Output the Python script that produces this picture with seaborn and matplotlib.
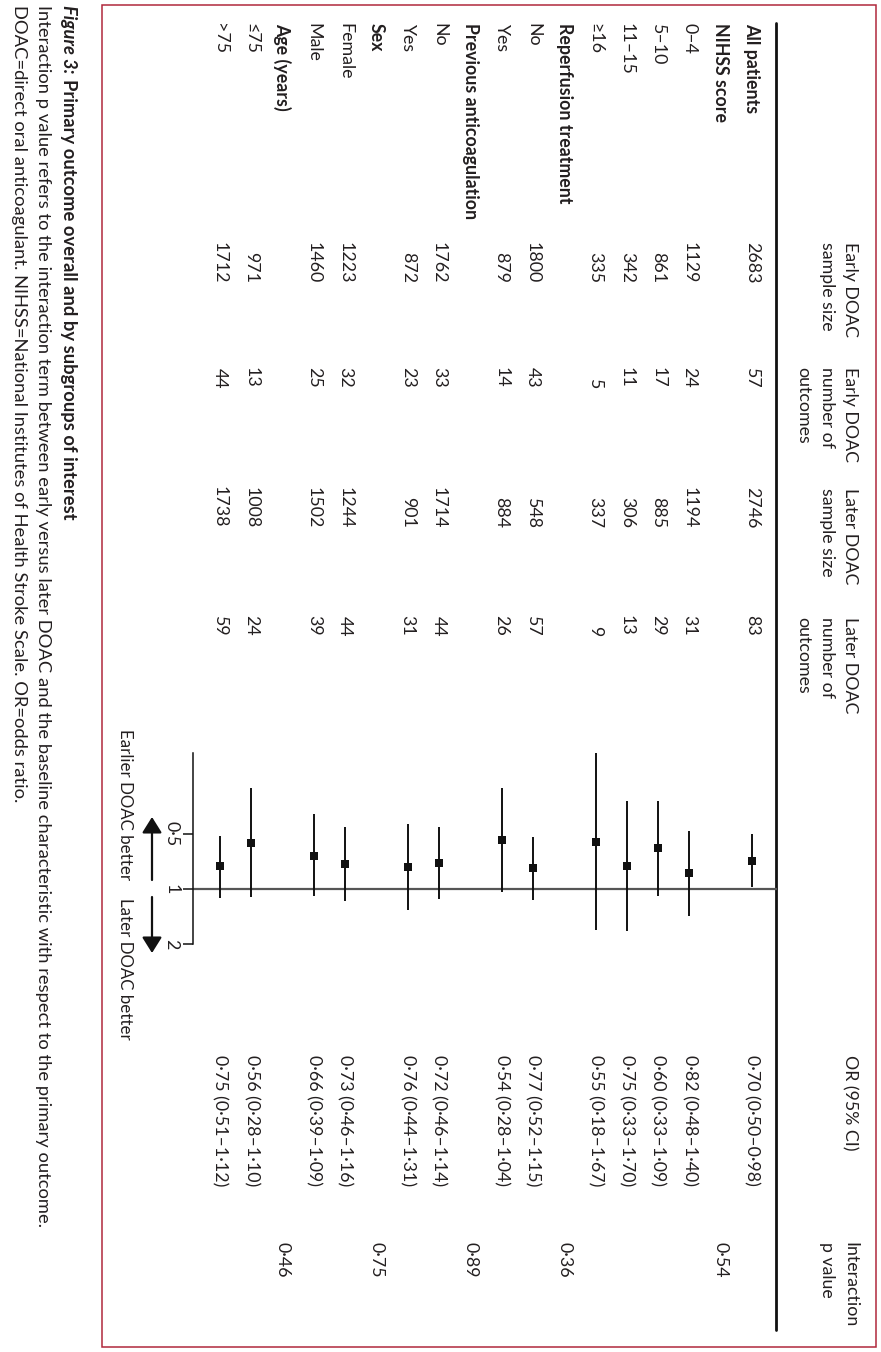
import numpy as np
import pandas as pd
import seaborn as sns
import matplotlib.pyplot as plt
from matplotlib.patches import Rectangle

sns.set_style('white')
plt.rcParams['font.family'] = ['Lato', 'DejaVu Sans']

# Table data (one entry per row, top to bottom of the original landscape table)
labels = ['All patients', 'NIHSS score', '0–4', '5–10', '11–15', '≥16',
          'Reperfusion treatment', 'No', 'Yes', 'Previous anticoagulation', 'No', 'Yes',
          'Sex', 'Female', 'Male', 'Age (years)', '≤75', '>75']
is_header = [True, True, False, False, False, False, True, False, False, True,
             False, False, True, False, False, True, False, False]
early_n = ['2683', '', '1129', '861', '342', '335', '', '1800', '879', '', '1762', '872',
           '', '1223', '1460', '', '971', '1712']
early_events = ['57', '', '24', '17', '11', '5', '', '43', '14', '', '33', '23',
                '', '32', '25', '', '13', '44']
later_n = ['2746', '', '1194', '885', '306', '337', '', '548', '884', '', '1714', '901',
           '', '1244', '1502', '', '1008', '1738']
later_events = ['83', '', '31', '29', '13', '9', '', '57', '26', '', '44', '31',
                '', '44', '39', '', '24', '59']
odds_ratio = [0.70, np.nan, 0.82, 0.60, 0.75, 0.55, np.nan, 0.77, 0.54, np.nan, 0.72, 0.76,
              np.nan, 0.73, 0.66, np.nan, 0.56, 0.75]
ci_low = [0.50, np.nan, 0.48, 0.33, 0.33, 0.18, np.nan, 0.52, 0.28, np.nan, 0.46, 0.44,
          np.nan, 0.46, 0.39, np.nan, 0.28, 0.51]
ci_high = [0.98, np.nan, 1.40, 1.09, 1.70, 1.67, np.nan, 1.15, 1.04, np.nan, 1.14, 1.31,
           np.nan, 1.16, 1.09, np.nan, 1.10, 1.12]
p_interaction = ['', '0·54', '', '', '', '', '0·36', '', '', '0·89', '', '', '0·75',
                 '', '', '0·46', '', '']
or_ticks = [0.5, 1, 2]

df = pd.DataFrame({'row': np.arange(len(labels)), 'or': odds_ratio,
                   'lo': ci_low, 'hi': ci_high}).dropna()

INK = '#231f20'
FS = 12.8
CAP = 13.2
W, H = 881, 1352
fig = plt.figure(figsize=(W / 100, H / 100), dpi=100)

# background axes in pixel coordinates (origin top-left)
bg = fig.add_axes([0, 0, 1, 1])
bg.set_xlim(0, W)
bg.set_ylim(H, 0)
bg.axis('off')


def dot(v):
    return f'{v:.2f}'.replace('.', '·')


def rtext(x, y, s, va='top', size=FS, weight='normal', style='normal', color=INK):
    return bg.text(x, y, s, rotation=-90, ha='center', va=va, fontsize=size,
                   fontweight=weight, fontstyle=style, color=color)


row0, step = 752, 31.3
for i, lab in enumerate(labels):
    x = row0 - step * i
    rtext(x, 23, lab, weight='bold' if is_header[i] else 'normal')
    if early_n[i]:
        rtext(x, 283, early_n[i], va='bottom')
        rtext(x, 388, early_events[i], va='bottom')
        rtext(x, 528, later_n[i], va='bottom')
        rtext(x, 636, later_events[i], va='bottom')
        rtext(x, 1055, f'{dot(odds_ratio[i])} ({dot(ci_low[i])}–{dot(ci_high[i])})')
    if p_interaction[i]:
        rtext(x, 1242, p_interaction[i])

# column headers
hdr_x = [850, 827, 803]
headers = [(242, ['Early DOAC', 'sample size']),
           (367, ['Early DOAC', 'number of', 'outcomes']),
           (488, ['Later DOAC', 'sample size']),
           (617, ['Later DOAC', 'number of', 'outcomes']),
           (1055, ['OR (95% CI)']),
           (1242, ['Interaction', 'p value'])]
for y, lines in headers:
    for hx, line in zip(hdr_x, lines):
        rtext(hx, y, line)

# rule under the header and the frame
bg.plot([776, 776], [23, 1330], color='#111111', lw=2)
bg.add_patch(Rectangle((102, 5), 774, 1342, fill=False, ec='#b0283c', lw=1.1))

# caption
fig_lab = rtext(68, 5, 'Figure 3:', size=CAP, weight='bold', style='italic')
fig.canvas.draw()
ext = fig_lab.get_window_extent()
gap_px = ext.height + 6
rtext(68, 5 + gap_px, 'Primary outcome overall and by subgroups of interest',
      size=CAP, weight='bold')
rtext(43, 5, 'Interaction p value refers to the interaction term between early versus later '
             'DOAC and the baseline characteristic with respect to the primary outcome.', size=CAP)
rtext(19, 5, 'DOAC=direct oral anticoagulant. NIHSS=National Institutes of Health Stroke '
             'Scale. OR=odds ratio.', size=CAP)

# direction arrows
arrow = dict(arrowstyle='-|>,head_length=0.8,head_width=0.5', lw=1.6, color='#111111',
             shrinkA=0, shrinkB=0, mutation_scale=12)
bg.annotate('', xy=(152, 817), xytext=(152, 880), arrowprops=arrow)
bg.annotate('', xy=(152, 953), xytext=(152, 897), arrowprops=arrow)
rtext(125, 880, 'Earlier DOAC better', va='bottom', size=12.2)
rtext(125, 898, 'Later DOAC better', size=12.2)

# forest plot axes: rows run right-to-left, OR runs top-to-bottom on a log2 scale
px_one, px_double = 889, 55
top_px, bot_px = 745, 950
fx = fig.add_axes([193 / W, (H - bot_px) / H, (777 - 193) / W, (bot_px - top_px) / H])
fx.set_facecolor('none')
fx.set_yscale('log', base=2)
fx.set_ylim(2 ** ((bot_px - px_one) / px_double), 2 ** ((top_px - px_one) / px_double))
fx.set_xlim((row0 - 193) / step, (row0 - 777) / step)

fx.axhline(1, color='#555555', lw=1.6, zorder=1)
fx.vlines(df['row'], df['lo'], df['hi'], color='#111111', lw=1.4, zorder=2)
sns.scatterplot(data=df, x='row', y='or', marker='s', s=28, color='#111111',
                linewidth=0, zorder=3, legend=False, ax=fx)

for side in ['top', 'right', 'bottom']:
    fx.spines[side].set_visible(False)
fx.spines['left'].set_bounds(df['lo'].min(), max(or_ticks))
fx.spines['left'].set_color('#111111')
fx.spines['left'].set_linewidth(1.1)
fx.set_yticks(or_ticks)
fx.set_yticklabels([str(t).replace('.', '·') for t in or_ticks], rotation=-90,
                   va='center', fontsize=FS, color=INK)
fx.yaxis.set_minor_locator(plt.NullLocator())
fx.tick_params(axis='y', left=True, length=7, width=1.1, color='#111111', pad=3)
fx.set_xticks([])
fx.set_xlabel('')
fx.set_ylabel('')

fig.savefig('out.png', dpi=100, facecolor='white')
